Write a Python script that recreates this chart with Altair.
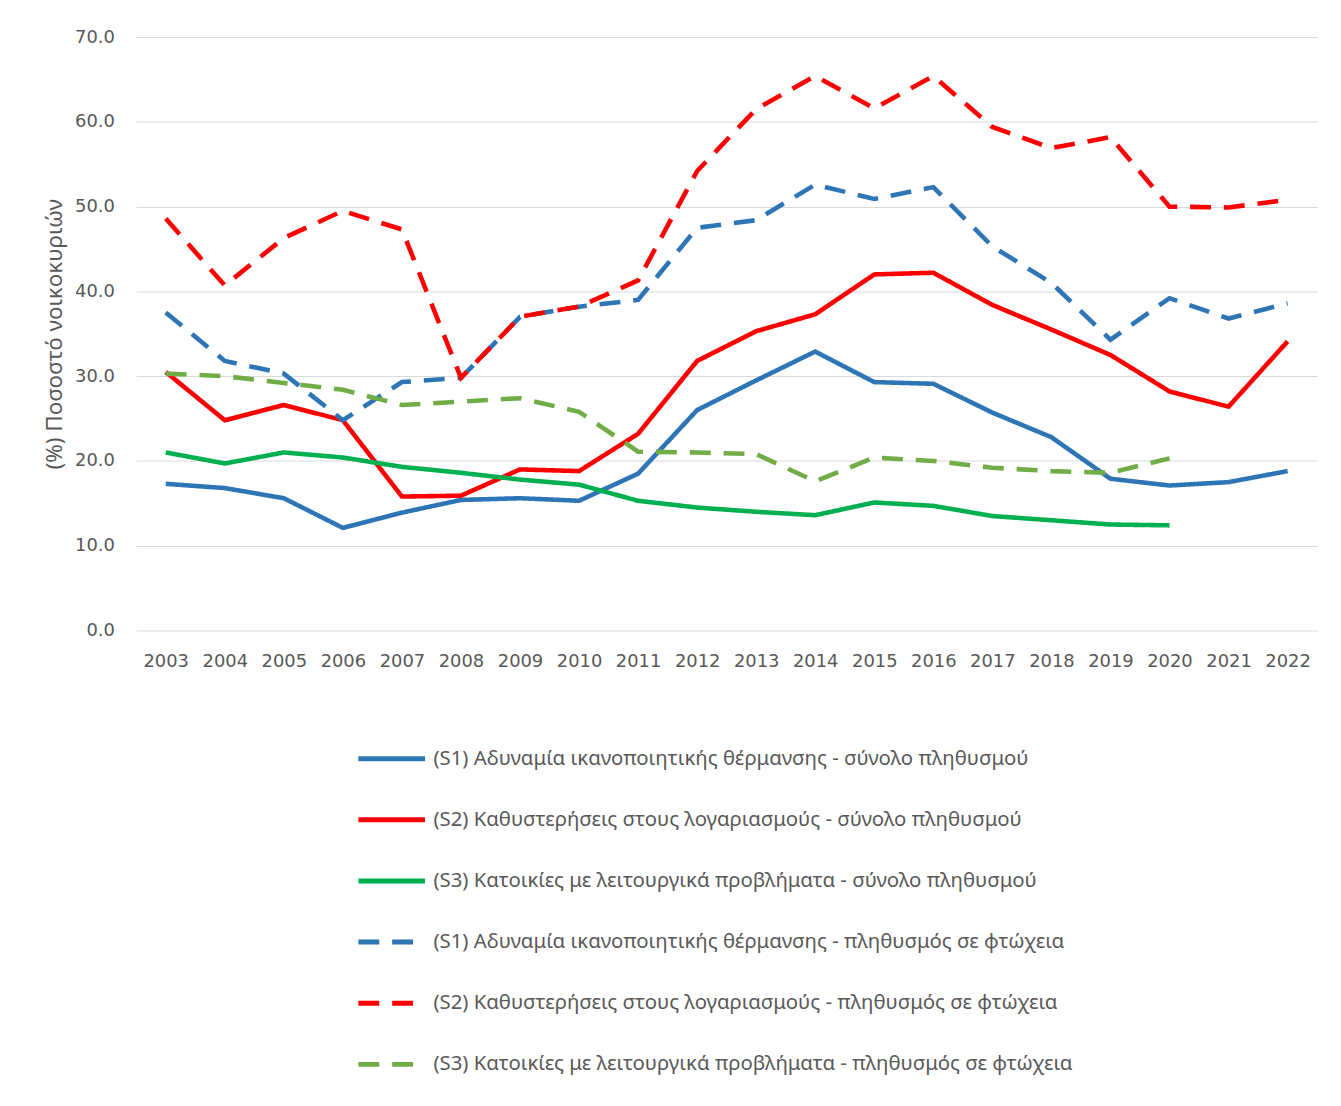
import altair as alt
import pandas as pd

years = [str(y) for y in range(2003, 2023)]

labels = [
    "(S1) Αδυναμία ικανοποιητικής θέρμανσης - σύνολο πληθυσμού",
    "(S2) Καθυστερήσεις στους λογαριασμούς - σύνολο πληθυσμού",
    "(S3) Κατοικίες με λειτουργικά προβλήματα - σύνολο πληθυσμού",
    "(S1) Αδυναμία ικανοποιητικής θέρμανσης -  πληθυσμός σε φτώχεια",
    "(S2) Καθυστερήσεις στους λογαριασμούς -  πληθυσμός σε φτώχεια",
    "(S3)  Κατοικίες με λειτουργικά προβλήματα - πληθυσμός σε φτώχεια",
]

s1_total = [17.3, 16.8, 15.6, 12.1, 13.9, 15.4, 15.6, 15.3, 18.5, 26.0, 29.5, 32.9, 29.3, 29.1, 25.7, 22.8, 17.9, 17.1, 17.5, 18.8]
s2_total = [30.5, 24.8, 26.6, 24.8, 15.8, 15.9, 19.0, 18.8, 23.2, 31.8, 35.3, 37.3, 42.0, 42.2, 38.4, 35.5, 32.5, 28.2, 26.4, 34.1]
s3_total = [21.0, 19.7, 21.0, 20.4, 19.3, 18.6, 17.8, 17.2, 15.3, 14.5, 14.0, 13.6, 15.1, 14.7, 13.5, 13.0, 12.5, 12.4, None, None]
s1_poor = [37.5, 31.8, 30.3, 24.8, 29.3, 29.8, 37.0, 38.2, 39.0, 47.5, 48.4, 52.6, 50.9, 52.3, 45.3, 41.0, 34.3, 39.2, 36.8, 38.6]
s2_poor = [48.6, 40.7, 46.3, 49.5, 47.3, 29.8, 37.0, 38.2, 41.3, 54.2, 61.5, 65.4, 61.6, 65.4, 59.4, 56.9, 58.2, 50.0, 49.9, 50.8]
s3_poor = [30.3, 30.0, 29.2, 28.4, 26.6, 27.0, 27.4, 25.8, 21.1, 21.0, 20.8, 17.6, 20.4, 20.0, 19.2, 18.8, 18.6, 20.3, None, None]

colors = ["#2E75B6", "#FF0000", "#00B050", "#2E75B6", "#FF0000", "#70AD47"]
dashes = [[1, 0], [1, 0], [1, 0], [21, 13], [21, 13], [21, 13]]

rows = []
for lab, vals in zip(labels, [s1_total, s2_total, s3_total, s1_poor, s2_poor, s3_poor]):
    for y, v in zip(years, vals):
        if v is not None:
            rows.append({"year": y, "value": v, "series": lab})
df = pd.DataFrame(rows)

gray = "#595959"

leg = dict(title=None, orient="none", legendX=221, legendY=690,
           direction="vertical", symbolType="stroke",
           symbolSize=4489, symbolStrokeWidth=5,
           labelFont="Noto Sans", labelFontSize=20.5, labelColor=gray,
           labelLimit=0, labelOffset=6, padding=0, rowPadding=14.5)

chart = alt.Chart(df).mark_line(strokeWidth=4.6).encode(
    x=alt.X("year:O", sort=years, scale=alt.Scale(padding=0.5),
            axis=alt.Axis(title=None, labelAngle=0, grid=False, ticks=False, domain=False,
                          labelFont="DejaVu Sans", labelFontSize=18, labelColor=gray,
                          labelPadding=22)),
    y=alt.Y("value:Q", scale=alt.Scale(domain=[0, 70], nice=False),
            axis=alt.Axis(title="(%) Ποσοστό νοικοκυριών", values=[0, 10, 20, 30, 40, 50, 60, 70],
                          format=".1f", ticks=False, domain=False,
                          labelFont="DejaVu Sans", labelFontSize=18, labelColor=gray,
                          labelPadding=22, gridColor="#D9D9D9", gridWidth=1,
                          titleFont="Noto Sans", titleFontSize=22.5, titleFontWeight="normal",
                          titleColor=gray, titlePadding=8)),
    color=alt.Color("series:N", sort=labels,
                    scale=alt.Scale(domain=labels, range=colors),
                    legend=alt.Legend(**leg)),
    strokeDash=alt.StrokeDash("series:N", sort=labels,
                              scale=alt.Scale(domain=labels, range=dashes),
                              legend=alt.Legend(**leg)),
).properties(
    width=1188, height=597,
    autosize=alt.AutoSizeParams(type="none"),
    padding={"left": 129, "top": 26, "right": 16, "bottom": 450},
).configure_view(stroke=None)

chart.save("out.html", embed_options={"renderer": "svg", "actions": False})
